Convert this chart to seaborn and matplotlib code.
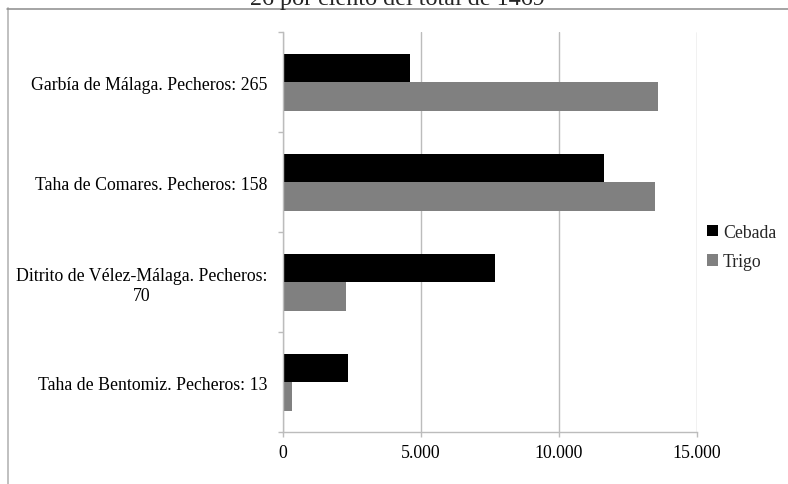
import matplotlib
matplotlib.use("Agg")
import matplotlib.pyplot as plt
import matplotlib.ticker as mticker
from matplotlib.lines import Line2D
from matplotlib.patches import Patch
import seaborn as sns
import pandas as pd

# ---- data ----
categories = [
    "Garbía de Málaga. Pecheros: 265",
    "Taha de Comares. Pecheros: 158",
    "Ditrito de Vélez-Málaga. Pecheros:\n70",
    "Taha de Bentomiz. Pecheros: 13",
]
cebada = [4600, 11630, 7690, 2350]
trigo = [13610, 13490, 2280, 340]
series_names = ["Cebada", "Trigo"]
series_colors = ["#000000", "#808080"]
x_ticks = [0, 5000, 10000, 15000]
title_text = "26 por ciento del total de 1469"

df = pd.DataFrame({
    "cat": categories * 2,
    "serie": [series_names[0]] * 4 + [series_names[1]] * 4,
    "valor": cebada + trigo,
})

sns.set_theme(style="white")
plt.rcParams["font.family"] = ["Liberation Serif", "DejaVu Serif"]

FS = 12.8
fig = plt.figure(figsize=(7.88, 4.85), dpi=100)
W, H = 788, 485
ax = fig.add_axes([282.7 / W, 1 - 433.3 / H, 414 / W, 400 / H])

sns.barplot(data=df, x="valor", y="cat", hue="serie", order=categories,
            hue_order=series_names, palette=series_colors, orient="h",
            width=0.57, saturation=1, ax=ax, legend=False, linewidth=0)

grid_c = "#bcbcbc"
ax.set_xlim(0, 15000)
ax.set_ylim(3.5, -0.5)
ax.set_xticks(x_ticks)
ax.xaxis.set_major_formatter(mticker.FuncFormatter(lambda v, p: f"{int(v):,}".replace(",", ".")))
ax.grid(axis="x", color=grid_c, linewidth=1.0)
ax.set_axisbelow(True)
ax.set_xlabel("")
ax.set_ylabel("")
for s in ["top", "right"]:
    ax.spines[s].set_visible(False)
for s in ["left", "bottom"]:
    ax.spines[s].set_color(grid_c)
    ax.spines[s].set_linewidth(1.0)

ax.tick_params(axis="x", which="major", length=3.6, width=1.0, color=grid_c,
               direction="out", pad=5, labelsize=FS, labelcolor="black", bottom=True)
ax.tick_params(axis="y", which="major", length=0, pad=11.3, labelsize=FS, labelcolor="black")
ax.set_yticks([-0.5, 0.5, 1.5, 2.5, 3.5], minor=True)
ax.tick_params(axis="y", which="minor", length=3.6, width=1.0, color=grid_c,
               direction="out", left=True)
for lbl in ax.get_yticklabels():
    lbl.set_multialignment("center")

# legend
handles = [Patch(facecolor=c, edgecolor="none") for c in series_colors]
fig.legend(handles, series_names, loc="center left",
           bbox_to_anchor=(707 / W, 1 - 248 / H), frameon=False,
           fontsize=FS, handlelength=0.6, handleheight=0.6,
           handletextpad=0.3, labelspacing=0.7, borderpad=0, borderaxespad=0)

# chart border (partially visible)
fig.add_artist(Line2D([7.5 / W, 7.5 / W], [1 - 9 / H, 0], color="#c0c0c0", linewidth=1.4))
fig.add_artist(Line2D([7 / W, 1], [1 - 9.5 / H, 1 - 9.5 / H], color="#8c8c8c", linewidth=1.1))

# title, cut at the top edge as in the reference
fig.text(397 / W, 1 - 5.5 / H, title_text, ha="center", va="baseline", fontsize=17.4)

fig.savefig("out.png", dpi=100)
